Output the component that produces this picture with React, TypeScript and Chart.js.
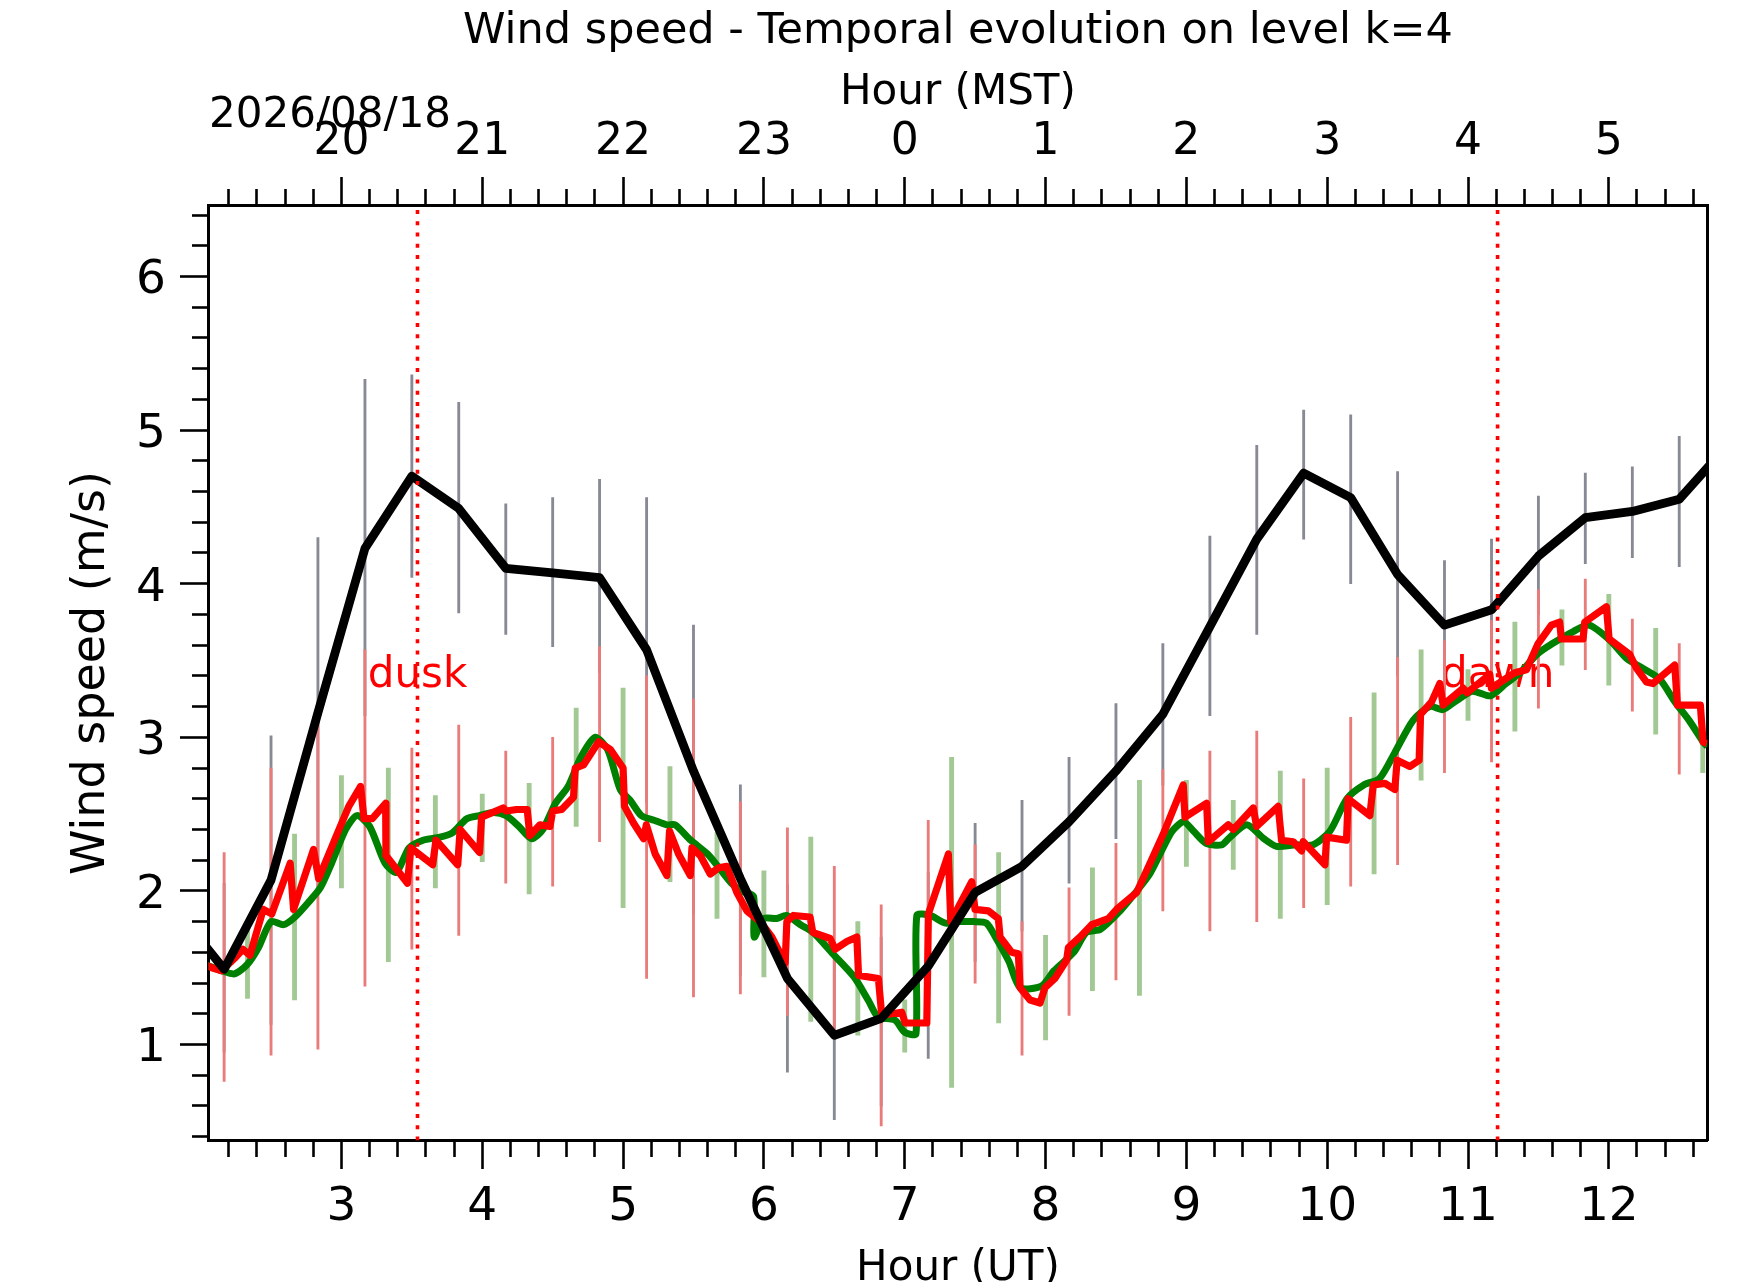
import { useEffect, useRef } from "react";
import { Chart, registerables } from "chart.js";

Chart.register(...registerables);

const FONT = "'DejaVu Sans', sans-serif";

const titleText = "Wind speed - Temporal evolution on level k=4";
const dateLabel = "2026/08/18";

// axis ranges: hours UT and m/s
const xMin = 2.056;
const xMax = 12.7;
const yMin = 0.375;
const yMax = 6.462;

const utTicks = [3, 4, 5, 6, 7, 8, 9, 10, 11, 12];
const utLabels = ["3", "4", "5", "6", "7", "8", "9", "10", "11", "12"];
const mstLabels = ["20", "21", "22", "23", "0", "1", "2", "3", "4", "5"];
const speedTicks = [1, 2, 3, 4, 5, 6];
const speedLabels = ["1", "2", "3", "4", "5", "6"];

const duskUT = 3.54;
const dawnUT = 11.21;
const markerLabelY = 3.33;

// 20 min means (black) and their spread (grey)
const meanTimes = [1.833, 2.167, 2.5, 2.833, 3.167, 3.5, 3.833, 4.167, 4.5, 4.833, 5.167, 5.5, 5.833, 6.167, 6.5, 6.833, 7.167, 7.5, 7.833, 8.167, 8.5, 8.833, 9.167, 9.5, 9.833, 10.167, 10.5, 10.833, 11.167, 11.5, 11.833, 12.167, 12.5, 12.833];
const meanSpeed = [1.87, 1.49, 2.07, 3.16, 4.23, 4.7, 4.49, 4.1, 4.07, 4.04, 3.57, 2.78, 2.08, 1.43, 1.06, 1.17, 1.51, 1.99, 2.16, 2.45, 2.78, 3.15, 3.72, 4.29, 4.72, 4.56, 4.06, 3.73, 3.83, 4.18, 4.43, 4.47, 4.55, 4.89];

const spreadTimes = [2.167, 2.5, 2.833, 3.167, 3.5, 3.833, 4.167, 4.5, 4.833, 5.167, 5.5, 5.833, 6.167, 6.5, 6.833, 7.167, 7.5, 7.833, 8.167, 8.5, 8.833, 9.167, 9.5, 9.833, 10.167, 10.5, 10.833, 11.167, 11.5, 11.833, 12.167, 12.5];
const meanLow = [0.95, 1.13, 2.0, 3.14, 4.04, 3.81, 3.67, 3.59, 3.42, 2.58, 1.85, 1.45, 0.82, 0.51, 0.6, 0.91, 1.54, 1.74, 2.05, 2.34, 2.69, 3.14, 3.67, 4.29, 4.0, 3.4, 3.31, 3.37, 3.8, 4.13, 4.17, 4.11];
const meanHigh = [2.05, 3.01, 4.3, 5.33, 5.36, 5.18, 4.52, 4.56, 4.68, 4.56, 3.73, 2.69, 2.04, 1.6, 1.7, 2.12, 2.44, 2.59, 2.87, 3.22, 3.61, 4.31, 4.9, 5.13, 5.1, 4.73, 4.15, 4.29, 4.57, 4.72, 4.76, 4.96];
const redLow = [0.76, 0.93, 0.97, 1.38, 1.62, 1.71, 2.05, 2.03, 2.32, 1.43, 1.31, 1.33, 1.19, 1.1, 0.47, 1.17, 1.4, 0.93, 1.19, 1.42, 1.87, 1.74, 1.8, 1.89, 2.03, 2.17, 2.77, 2.84, 3.19, 3.44, 3.17, 2.76];
const redHigh = [2.25, 2.8, 3.1, 3.57, 2.93, 3.08, 2.91, 3.0, 3.59, 3.4, 3.25, 2.58, 2.41, 2.16, 1.91, 2.46, 2.3, 1.8, 2.02, 2.31, 2.79, 2.91, 3.04, 2.73, 3.13, 3.52, 3.63, 3.76, 3.96, 4.03, 3.77, 3.61];

const greenSpreadTimes = [2.333, 2.667, 3.0, 3.333, 3.667, 4.0, 4.333, 4.667, 5.0, 5.333, 5.667, 6.0, 6.333, 6.667, 7.0, 7.333, 7.667, 8.0, 8.333, 8.667, 9.0, 9.333, 9.667, 10.0, 10.333, 10.667, 11.0, 11.333, 11.667, 12.0, 12.333, 12.667];
const greenLow = [1.3, 1.29, 2.02, 1.54, 2.02, 2.19, 1.98, 2.42, 1.89, 2.06, 1.82, 1.44, 1.15, 1.06, 0.95, 0.72, 1.14, 1.03, 1.35, 1.32, 2.16, 2.14, 1.82, 1.91, 2.11, 2.72, 3.11, 3.04, 3.47, 3.34, 3.02, 2.77];
const greenHigh = [1.76, 2.37, 2.75, 2.8, 2.62, 2.63, 2.7, 3.19, 3.32, 2.81, 2.38, 2.13, 2.35, 1.8, 1.29, 2.87, 2.25, 1.71, 2.15, 2.72, 2.72, 2.59, 2.78, 2.8, 3.29, 3.57, 3.44, 3.75, 3.83, 3.93, 3.71, 3.06];

// smooth series (green)
const greenTimes = [2.03, 2.15, 2.24, 2.33, 2.41, 2.5, 2.59, 2.67, 2.77, 2.85, 2.93, 3.03, 3.11, 3.2, 3.31, 3.39, 3.48, 3.58, 3.7, 3.79, 3.89, 3.98, 4.08, 4.17, 4.26, 4.35, 4.43, 4.52, 4.61, 4.7, 4.8, 4.89, 4.98, 5.05, 5.13, 5.22, 5.31, 5.37, 5.48, 5.6, 5.69, 5.77, 5.84, 5.926, 5.931, 6.0, 6.09, 6.16, 6.26, 6.35, 6.49, 6.64, 6.74, 6.81, 6.93, 7.0, 7.08, 7.086, 7.18, 7.29, 7.38, 7.49, 7.58, 7.65, 7.74, 7.82, 7.97, 8.06, 8.2, 8.29, 8.39, 8.53, 8.64, 8.74, 8.84, 8.9, 8.98, 9.05, 9.14, 9.25, 9.31, 9.43, 9.55, 9.64, 9.78, 9.9, 10.02, 10.14, 10.26, 10.37, 10.48, 10.61, 10.73, 10.82, 10.92, 11.03, 11.16, 11.27, 11.37, 11.49, 11.6, 11.75, 11.86, 12.01, 12.13, 12.24, 12.36, 12.47, 12.57, 12.67, 12.7];
const greenSpeed = [1.52, 1.48, 1.46, 1.52, 1.63, 1.8, 1.78, 1.83, 1.93, 2.02, 2.18, 2.4, 2.49, 2.42, 2.18, 2.12, 2.28, 2.33, 2.35, 2.38, 2.47, 2.49, 2.51, 2.49, 2.42, 2.34, 2.4, 2.57, 2.68, 2.87, 3.0, 2.92, 2.66, 2.59, 2.49, 2.46, 2.43, 2.43, 2.33, 2.24, 2.14, 2.05, 2.0, 1.965, 1.7, 1.82, 1.82, 1.84, 1.78, 1.73, 1.59, 1.44, 1.29, 1.18, 1.16, 1.08, 1.07, 1.84, 1.84, 1.79, 1.8, 1.8, 1.79, 1.69, 1.54, 1.37, 1.38, 1.48, 1.6, 1.73, 1.75, 1.87, 1.99, 2.11, 2.29, 2.39, 2.45, 2.39, 2.31, 2.3, 2.35, 2.43, 2.34, 2.29, 2.3, 2.3, 2.39, 2.6, 2.69, 2.73, 2.9, 3.11, 3.2, 3.18, 3.24, 3.3, 3.27, 3.35, 3.42, 3.54, 3.61, 3.69, 3.73, 3.63, 3.51, 3.45, 3.38, 3.23, 3.11, 2.97, 2.94];

// jagged series (red)
const redTimes = [2.03, 2.08, 2.15, 2.24, 2.3, 2.35, 2.445, 2.505, 2.636, 2.66, 2.802, 2.838, 2.969, 3.052, 3.136, 3.16, 3.219, 3.314, 3.316, 3.469, 3.493, 3.648, 3.671, 3.826, 3.843, 3.981, 3.995, 4.148, 4.171, 4.243, 4.319, 4.338, 4.41, 4.481, 4.5, 4.564, 4.648, 4.66, 4.719, 4.826, 4.91, 5.0, 5.01, 5.075, 5.146, 5.165, 5.228, 5.311, 5.33, 5.394, 5.477, 5.489, 5.548, 5.619, 5.678, 5.737, 5.808, 5.879, 5.974, 6.056, 6.151, 6.163, 6.21, 6.328, 6.347, 6.47, 6.506, 6.589, 6.66, 6.672, 6.813, 6.837, 6.979, 7.003, 7.157, 7.168, 7.31, 7.327, 7.476, 7.499, 7.594, 7.665, 7.677, 7.76, 7.807, 7.819, 7.89, 7.961, 7.996, 8.067, 8.15, 8.162, 8.245, 8.328, 8.446, 8.505, 8.647, 8.742, 8.836, 8.978, 8.99, 9.144, 9.156, 9.298, 9.333, 9.475, 9.499, 9.652, 9.676, 9.759, 9.818, 9.83, 9.984, 9.996, 10.137, 10.149, 10.303, 10.327, 10.41, 10.48, 10.497, 10.587, 10.653, 10.663, 10.741, 10.8, 10.823, 10.965, 10.994, 11.155, 11.166, 11.332, 11.415, 11.498, 11.592, 11.651, 11.663, 11.817, 11.829, 11.983, 12.002, 12.148, 12.196, 12.267, 12.314, 12.468, 12.487, 12.65, 12.669, 12.697];
const redSpeed = [1.52, 1.5, 1.48, 1.56, 1.62, 1.58, 1.88, 1.85, 2.18, 1.88, 2.27, 2.08, 2.37, 2.55, 2.68, 2.47, 2.47, 2.57, 2.23, 2.05, 2.28, 2.17, 2.33, 2.17, 2.4, 2.25, 2.48, 2.54, 2.52, 2.53, 2.53, 2.36, 2.43, 2.42, 2.52, 2.53, 2.61, 2.8, 2.82, 2.97, 2.92, 2.8, 2.55, 2.44, 2.34, 2.43, 2.24, 2.1, 2.39, 2.24, 2.1, 2.28, 2.23, 2.11, 2.15, 2.16, 1.99, 1.87, 1.8, 1.7, 1.53, 1.8, 1.84, 1.83, 1.73, 1.69, 1.62, 1.67, 1.7, 1.45, 1.43, 1.19, 1.21, 1.14, 1.14, 1.85, 2.24, 1.8, 2.06, 1.88, 1.87, 1.82, 1.7, 1.6, 1.59, 1.37, 1.29, 1.27, 1.37, 1.43, 1.55, 1.63, 1.7, 1.78, 1.82, 1.88, 1.99, 2.18, 2.37, 2.69, 2.48, 2.57, 2.32, 2.43, 2.4, 2.54, 2.42, 2.55, 2.33, 2.32, 2.26, 2.32, 2.17, 2.35, 2.33, 2.6, 2.49, 2.69, 2.7, 2.66, 2.85, 2.81, 2.85, 3.15, 3.23, 3.35, 3.21, 3.32, 3.29, 3.41, 3.32, 3.42, 3.44, 3.61, 3.73, 3.75, 3.64, 3.64, 3.75, 3.85, 3.64, 3.54, 3.45, 3.36, 3.35, 3.47, 3.21, 3.21, 2.97, 2.96];

const MINOR = 0.2;

function minorTicks(lo: number, hi: number) {
  const out: number[] = [];
  for (let k = Math.ceil(lo / MINOR - 1e-9); k * MINOR <= hi + 1e-9; k++) {
    const v = +(k * MINOR).toFixed(1);
    if (Math.abs(v - Math.round(v)) > 1e-6) out.push(v);
  }
  return out;
}

const toPoints = (xs: number[], ys: number[]) => xs.map((x, i) => ({ x, y: ys[i] }));
const toBars = (xs: number[], lo: number[], hi: number[]) =>
  xs.map((x, i) => ({ x, y: [lo[i], hi[i]] }));

const labelsPlugin = {
  id: "labelsPlugin",
  beforeDatasetsDraw(chart: any) {
    const { ctx, scales } = chart;
    ctx.save();
    ctx.font = `42px ${FONT}`;
    ctx.fillStyle = "#ff0000";
    ctx.textAlign = "center";
    ctx.textBaseline = "alphabetic";
    const py = scales.y.getPixelForValue(markerLabelY);
    ctx.fillText("dusk", scales.x.getPixelForValue(duskUT), py);
    ctx.fillText("dawn", scales.x.getPixelForValue(dawnUT), py);
    ctx.restore();
  },
  afterDraw(chart: any) {
    const { ctx, chartArea } = chart;
    ctx.save();
    ctx.font = `42px ${FONT}`;
    ctx.fillStyle = "#000";
    ctx.textAlign = "left";
    ctx.textBaseline = "alphabetic";
    ctx.fillText(dateLabel, chartArea.left + 0.5, 126.6);
    ctx.restore();
  },
};

const majorGrid = {
  drawOnChartArea: false,
  drawTicks: true,
  tickLength: 28.5,
  tickWidth: 2.6,
  tickColor: "#000",
  offset: false,
};
const minorGrid = { ...majorGrid, tickLength: 16.5 };
const axisBorder = { display: true, color: "#000", width: 3 };

export default function App() {
  const canvasRef = useRef<HTMLCanvasElement | null>(null);

  useEffect(() => {
    if (!canvasRef.current) return;
    const ctx = canvasRef.current.getContext("2d");
    if (!ctx) return;

    const xMinor = minorTicks(xMin, xMax);
    const yMinor = minorTicks(yMin, yMax);

    const chart = new Chart(ctx, {
      type: "line",
      data: {
        datasets: [
          {
            type: "line",
            data: [{ x: duskUT, y: yMin }, { x: duskUT, y: yMax }],
            borderColor: "#ff0000",
            borderWidth: 3.6,
            borderDash: [4, 7.3],
            pointRadius: 0,
            order: 0,
            clip: 0,
          },
          {
            type: "line",
            data: [{ x: dawnUT, y: yMin }, { x: dawnUT, y: yMax }],
            borderColor: "#ff0000",
            borderWidth: 3.6,
            borderDash: [4, 7.3],
            pointRadius: 0,
            order: 0,
            clip: 0,
          },
          {
            type: "line",
            data: toPoints(meanTimes, meanSpeed),
            borderColor: "#000000",
            borderWidth: 8.8,
            borderJoinStyle: "round",
            pointRadius: 0,
            tension: 0,
            order: 1,
            clip: 0,
          },
          {
            type: "line",
            data: toPoints(redTimes, redSpeed),
            borderColor: "#ff0000",
            borderWidth: 7.2,
            borderJoinStyle: "round",
            pointRadius: 0,
            tension: 0,
            order: 2,
            clip: 0,
          },
          {
            type: "line",
            data: toPoints(greenTimes, greenSpeed),
            borderColor: "#008000",
            borderWidth: 7.0,
            borderJoinStyle: "round",
            pointRadius: 0,
            tension: 0.25,
            order: 3,
            clip: 0,
          },
          {
            type: "bar",
            data: toBars(greenSpreadTimes, greenLow, greenHigh) as any,
            backgroundColor: "#a2c993",
            barThickness: 4.2,
            grouped: false,
            order: 4,
            clip: 0,
          },
          {
            type: "bar",
            data: toBars(spreadTimes, redLow, redHigh) as any,
            backgroundColor: "#ea7b7b",
            barThickness: 2.2,
            grouped: false,
            order: 5,
            clip: 0,
          },
          {
            type: "bar",
            data: toBars(spreadTimes, meanLow, meanHigh) as any,
            backgroundColor: "#878a94",
            barThickness: 2.2,
            grouped: false,
            order: 6,
            clip: 0,
          },
        ] as any,
      },
      options: {
        animation: false,
        responsive: false,
        events: [],
        layout: { padding: { left: 0, right: 34.6, top: 0, bottom: 0 } },
        plugins: {
          legend: { display: false },
          tooltip: { enabled: false },
          title: {
            display: true,
            text: titleText,
            fullSize: false,
            color: "#000",
            font: { family: FONT, size: 43, weight: "normal" },
            padding: { top: 5.6, bottom: 0 },
          },
        },
        scales: {
          x: {
            type: "linear",
            position: "bottom",
            min: xMin,
            max: xMax,
            offset: false,
            weight: 0,
            afterBuildTicks: (s: any) => {
              s.ticks = utTicks.map((value) => ({ value }));
            },
            afterFit: (s: any) => {
              s.height = 141.5;
            },
            ticks: {
              autoSkip: false,
              maxRotation: 0,
              padding: 10.9,
              color: "#000",
              font: { family: FONT, size: 47 },
              callback: (_v: any, i: number) => utLabels[i],
            },
            grid: majorGrid,
            border: axisBorder,
            title: {
              display: true,
              text: "Hour (UT)",
              color: "#000",
              font: { family: FONT, size: 42 },
              padding: { top: 0, bottom: -12.2 },
            },
          },
          xMinor: {
            type: "linear",
            position: "bottom",
            min: xMin,
            max: xMax,
            offset: false,
            weight: -1,
            afterBuildTicks: (s: any) => {
              s.ticks = xMinor.map((value) => ({ value }));
            },
            afterFit: (s: any) => {
              s.height = 0;
            },
            ticks: { display: false },
            grid: minorGrid,
            border: { display: false },
          },
          x2: {
            type: "linear",
            position: "top",
            min: xMin,
            max: xMax,
            offset: false,
            weight: 0,
            afterBuildTicks: (s: any) => {
              s.ticks = utTicks.map((value) => ({ value }));
            },
            afterFit: (s: any) => {
              s.height = 148.3;
            },
            ticks: {
              autoSkip: false,
              maxRotation: 0,
              padding: 7.7,
              color: "#000",
              font: { family: FONT, size: 44 },
              callback: (_v: any, i: number) => mstLabels[i],
            },
            grid: majorGrid,
            border: axisBorder,
            title: {
              display: true,
              text: "Hour (MST)",
              color: "#000",
              font: { family: FONT, size: 42 },
              padding: { top: 10.6, bottom: 0 },
            },
          },
          x2Minor: {
            type: "linear",
            position: "top",
            min: xMin,
            max: xMax,
            offset: false,
            weight: -1,
            afterBuildTicks: (s: any) => {
              s.ticks = xMinor.map((value) => ({ value }));
            },
            afterFit: (s: any) => {
              s.height = 0;
            },
            ticks: { display: false },
            grid: minorGrid,
            border: { display: false },
          },
          y: {
            type: "linear",
            position: "left",
            min: yMin,
            max: yMax,
            beginAtZero: false,
            weight: 0,
            afterBuildTicks: (s: any) => {
              s.ticks = speedTicks.map((value) => ({ value }));
            },
            afterFit: (s: any) => {
              s.width = 208.5;
            },
            ticks: {
              autoSkip: false,
              padding: 14,
              labelOffset: 4.7,
              color: "#000",
              font: { family: FONT, size: 47 },
              callback: (_v: any, i: number) => speedLabels[i],
            },
            grid: majorGrid,
            border: axisBorder,
            title: {
              display: true,
              text: "Wind speed (m/s)",
              color: "#000",
              font: { family: FONT, size: 46 },
              padding: { top: 64.9, bottom: 0 },
            },
          },
          yMinor: {
            type: "linear",
            position: "left",
            min: yMin,
            max: yMax,
            weight: -1,
            afterBuildTicks: (s: any) => {
              s.ticks = yMinor.map((value) => ({ value }));
            },
            afterFit: (s: any) => {
              s.width = 0;
            },
            ticks: { display: false },
            grid: minorGrid,
            border: { display: false },
          },
          yRight: {
            type: "linear",
            position: "right",
            min: yMin,
            max: yMax,
            weight: 0,
            afterFit: (s: any) => {
              s.width = 0;
            },
            ticks: { display: false },
            grid: { drawOnChartArea: false, drawTicks: false },
            border: axisBorder,
          },
        } as any,
      },
      plugins: [labelsPlugin],
    });

    return () => {
      chart.destroy();
    };
  }, []);

  return (
    <div
      style={{
        position: "fixed",
        left: 0,
        top: 0,
        width: 1742,
        height: 1282,
        background: "#fff",
        overflow: "hidden",
      }}
    >
      <canvas ref={canvasRef} width={1742} height={1282} />
    </div>
  );
}
